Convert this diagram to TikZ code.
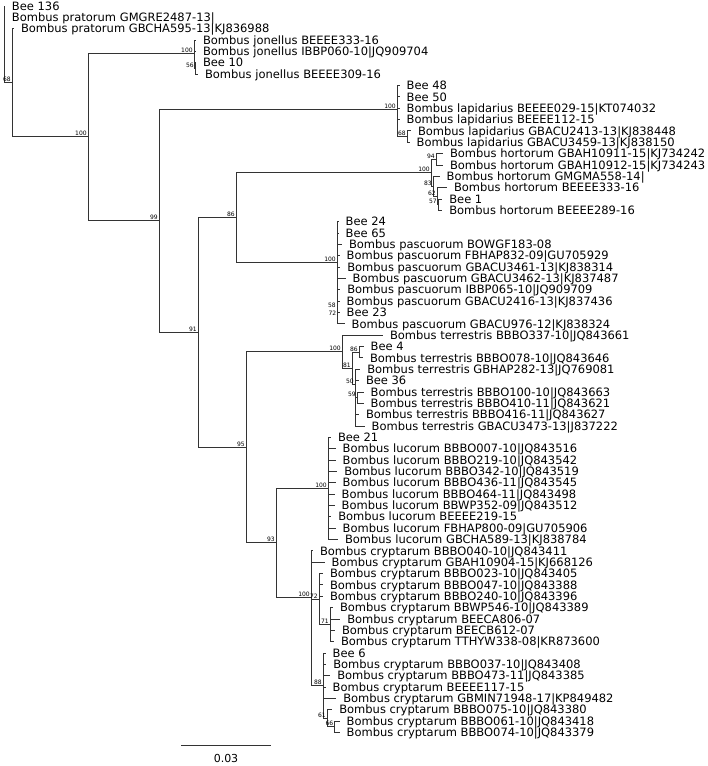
\documentclass[tikz,border=0pt]{standalone}
\usepackage{fontspec}
\setmainfont{DejaVu Sans}
\newcommand{\tipfont}{\fontsize{11.5}{11.5}\selectfont}
\newcommand{\bsfont}{\fontsize{6}{6}\selectfont}
\tikzset{
  tip/.style={anchor=west, inner xsep=7pt, inner ysep=0pt, outer sep=0pt, text height=8.4pt, text depth=0pt, font=\tipfont},
  bs/.style={anchor=south east, inner sep=0.6pt, font=\bsfont, xshift=-0.5pt},
  br/.style={draw=black!80, line width=0.8pt},
}
\begin{document}
\begin{tikzpicture}[x=1pt,y=1pt]
\useasboundingbox (0,0) rectangle (708,-766);
% internal nodes
\coordinate (nR) at (4,-44);
\coordinate (n68) at (12,-82.75);
\coordinate (nB) at (88,-136.8);
\coordinate (nJ) at (194,-53);
\coordinate (n56) at (195,-68.4);
\coordinate (n99) at (159,-220.6);
\coordinate (nLap) at (397,-109);
\coordinate (nL68) at (407,-136.5);
\coordinate (n91) at (198,-332.2);
\coordinate (n86) at (236,-217.4);
\coordinate (nH) at (431,-172.7);
\coordinate (n94) at (436,-159.2);
\coordinate (nH83) at (433,-186.2);
\coordinate (n62) at (437,-196.1);
\coordinate (n57) at (438,-204.6);
\coordinate (nP) at (337,-262);
\coordinate (n58) at (337,-308);
\coordinate (n72p) at (337.5,-316);
\coordinate (n95) at (246,-447);
\coordinate (nT) at (342,-351.6);
\coordinate (n81) at (352,-368.1);
\coordinate (n86b) at (359,-352.2);
\coordinate (n50) at (355,-384);
\coordinate (n59) at (357,-397.6);
\coordinate (n93) at (276,-542.5);
\coordinate (nLu) at (328,-488);
\coordinate (nC) at (311,-597);
\coordinate (n72c) at (319,-599);
\coordinate (n71) at (330,-624.6);
\coordinate (n88) at (323,-685.6);
\coordinate (n61) at (327,-718.2);
\coordinate (n66) at (334.5,-726.7);
% tips
\node[tip] (t1) at (5,-6.0) {Bee 136};
\node[tip] (t2) at (5,-17.35) {Bombus pratorum GMGRE2487-13|};
\node[tip] (t3) at (14,-28.7) {Bombus pratorum GBCHA595-13|KJ836988};
\node[tip] (t4) at (196,-40.05) {Bombus jonellus BEEEE333-16};
\node[tip] (t5) at (196,-51.4) {Bombus jonellus IBBP060-10|JQ909704};
\node[tip] (t6) at (196,-62.75) {Bee 10};
\node[tip] (t7) at (198,-74.1) {Bombus jonellus BEEEE309-16};
\node[tip] (t8) at (399.7,-85.45) {Bee 48};
\node[tip] (t9) at (399.7,-96.8) {Bee 50};
\node[tip] (t10) at (399.7,-108.15) {Bombus lapidarius BEEEE029-15|KT074032};
\node[tip] (t11) at (399.7,-119.5) {Bombus lapidarius BEEEE112-15};
\node[tip] (t12) at (411,-130.85) {Bombus lapidarius GBACU2413-13|KJ838448};
\node[tip] (t13) at (409.7,-142.2) {Bombus lapidarius GBACU3459-13|KJ838150};
\node[tip] (t14) at (443,-153.55) {Bombus hortorum GBAH10911-15|KJ734242};
\node[tip] (t15) at (443,-164.9) {Bombus hortorum GBAH10912-15|KJ734243};
\node[tip] (t16) at (439.7,-176.25) {Bombus hortorum GMGMA558-14|};
\node[tip] (t17) at (447,-187.6) {Bombus hortorum BEEEE333-16};
\node[tip] (t18) at (442.3,-198.95) {Bee 1};
\node[tip] (t19) at (442.3,-210.3) {Bombus hortorum BEEEE289-16};
\node[tip] (t20) at (338.7,-221.65) {Bee 24};
\node[tip] (t21) at (338.7,-233.0) {Bee 65};
\node[tip] (t22) at (342,-244.35) {Bombus pascuorum BOWGF183-08};
\node[tip] (t23) at (339.7,-255.7) {Bombus pascuorum FBHAP832-09|GU705929};
\node[tip] (t24) at (340.3,-267.05) {Bombus pascuorum GBACU3461-13|KJ838314};
\node[tip] (t25) at (345.7,-278.4) {Bombus pascuorum GBACU3462-13|KJ837487};
\node[tip] (t26) at (340.3,-289.75) {Bombus pascuorum IBBP065-10|JQ909709};
\node[tip] (t27) at (339.7,-301.1) {Bombus pascuorum GBACU2416-13|KJ837436};
\node[tip] (t28) at (339.7,-312.45) {Bee 23};
\node[tip] (t29) at (344.7,-323.8) {Bombus pascuorum GBACU976-12|KJ838324};
\node[tip] (t30) at (383,-335.15) {Bombus terrestris BBBO337-10|JQ843661};
\node[tip] (t31) at (363.7,-346.5) {Bee 4};
\node[tip] (t32) at (363,-357.85) {Bombus terrestris BBBO078-10|JQ843646};
\node[tip] (t33) at (360.3,-369.2) {Bombus terrestris GBHAP282-13|JQ769081};
\node[tip] (t34) at (359,-380.55) {Bee 36};
\node[tip] (t35) at (363.7,-391.9) {Bombus terrestris BBBO100-10|JQ843663};
\node[tip] (t36) at (363.7,-403.25) {Bombus terrestris BBBO410-11|JQ843621};
\node[tip] (t37) at (359,-414.6) {Bombus terrestris BBBO416-11|JQ843627};
\node[tip] (t38) at (364.7,-425.95) {Bombus terrestris GBACU3473-13|J837222};
\node[tip] (t39) at (331,-437.3) {Bee 21};
\node[tip] (t40) at (335.7,-448.65) {Bombus lucorum BBBO007-10|JQ843516};
\node[tip] (t41) at (335.7,-460.0) {Bombus lucorum BBBO219-10|JQ843542};
\node[tip] (t42) at (337.3,-471.35) {Bombus lucorum BBBO342-10|JQ843519};
\node[tip] (t43) at (335.7,-482.7) {Bombus lucorum BBBO436-11|JQ843545};
\node[tip] (t44) at (334.7,-494.05) {Bombus lucorum BBBO464-11|JQ843498};
\node[tip] (t45) at (334.7,-505.4) {Bombus lucorum BBWP352-09|JQ843512};
\node[tip] (t46) at (331.3,-516.75) {Bombus lucorum BEEEE219-15};
\node[tip] (t47) at (335.7,-528.1) {Bombus lucorum FBHAP800-09|GU705906};
\node[tip] (t48) at (338,-539.45) {Bombus lucorum GBCHA589-13|KJ838784};
\node[tip] (t49) at (313,-550.8) {Bombus cryptarum BBBO040-10|JQ843411};
\node[tip] (t50) at (324.7,-562.15) {Bombus cryptarum GBAH10904-15|KJ668126};
\node[tip] (t51) at (323,-573.5) {Bombus cryptarum BBBO023-10|JQ843405};
\node[tip] (t52) at (323,-584.85) {Bombus cryptarum BBBO047-10|JQ843388};
\node[tip] (t53) at (323,-596.2) {Bombus cryptarum BBBO240-10|JQ843396};
\node[tip] (t54) at (333,-607.55) {Bombus cryptarum BBWP546-10|JQ843389};
\node[tip] (t55) at (340.3,-618.9) {Bombus cryptarum BEECA806-07};
\node[tip] (t56) at (335,-630.25) {Bombus cryptarum BEECB612-07};
\node[tip] (t57) at (334,-641.6) {Bombus cryptarum TTHYW338-08|KR873600};
\node[tip] (t58) at (325.7,-652.95) {Bee 6};
\node[tip] (t59) at (326.3,-664.3) {Bombus cryptarum BBBO037-10|JQ843408};
\node[tip] (t60) at (330.3,-675.65) {Bombus cryptarum BBBO473-11|JQ843385};
\node[tip] (t61) at (325.7,-687.0) {Bombus cryptarum BEEEE117-15};
\node[tip] (t62) at (336.3,-698.35) {Bombus cryptarum GBMIN71948-17|KP849482};
\node[tip] (t63) at (332.3,-709.7) {Bombus cryptarum BBBO075-10|JQ843380};
\node[tip] (t64) at (339.7,-721.05) {Bombus cryptarum BBBO061-10|JQ843418};
\node[tip] (t65) at (339.7,-732.4) {Bombus cryptarum BBBO074-10|JQ843379};
% branches
\draw[br] (nR) |- (t1.west);
\draw[br] (nR) |- (t2.west);
\draw[br] (nR) |- (n68);
\draw[br] (n68) |- (t3.west);
\draw[br] (n68) |- (nB);
\draw[br] (nB) |- (nJ);
\draw[br] (nB) |- (n99);
\foreach \t in {t4,t5} \draw[br] (nJ) |- (\t.west);
\draw[br] (nJ) |- (n56);
\foreach \t in {t6,t7} \draw[br] (n56) |- (\t.west);
\draw[br] (n99) |- (nLap);
\draw[br] (n99) |- (n91);
\foreach \t in {t8,t9,t10,t11} \draw[br] (nLap) |- (\t.west);
\draw[br] (nLap) |- (nL68);
\foreach \t in {t12,t13} \draw[br] (nL68) |- (\t.west);
\draw[br] (n91) |- (n86);
\draw[br] (n91) |- (n95);
\draw[br] (n86) |- (nH);
\draw[br] (n86) |- (nP);
\draw[br] (nH) |- (n94);
\draw[br] (nH) |- (nH83);
\foreach \t in {t14,t15} \draw[br] (n94) |- (\t.west);
\draw[br] (nH83) |- (t16.west);
\draw[br] (nH83) |- (n62);
\draw[br] (n62) |- (t17.west);
\draw[br] (n62) |- (n57);
\foreach \t in {t18,t19} \draw[br] (n57) |- (\t.west);
\foreach \t in {t20,t21,t22,t23,t24,t25,t26,t27,t28,t29} \draw[br] (nP) |- (\t.west);
\draw[br] (n95) |- (nT);
\draw[br] (n95) |- (n93);
\draw[br] (nT) |- (t30.west);
\draw[br] (nT) |- (n81);
\draw[br] (n81) |- (n86b);
\draw[br] (n81) |- (n50);
\foreach \t in {t31,t32} \draw[br] (n86b) |- (\t.west);
\foreach \t in {t33,t34,t37,t38} \draw[br] (n50) |- (\t.west);
\draw[br] (n50) |- (n59);
\foreach \t in {t35,t36} \draw[br] (n59) |- (\t.west);
\draw[br] (n93) |- (nLu);
\draw[br] (n93) |- (nC);
\foreach \t in {t39,t40,t41,t42,t43,t44,t45,t46,t47,t48} \draw[br] (nLu) |- (\t.west);
\foreach \t in {t49,t50} \draw[br] (nC) |- (\t.west);
\draw[br] (nC) |- (n72c);
\draw[br] (nC) |- (n88);
\foreach \t in {t51,t52,t53} \draw[br] (n72c) |- (\t.west);
\draw[br] (n72c) |- (n71);
\foreach \t in {t54,t55,t56,t57} \draw[br] (n71) |- (\t.west);
\foreach \t in {t58,t59,t60,t61,t62} \draw[br] (n88) |- (\t.west);
\draw[br] (n88) |- (n61);
\draw[br] (n61) |- (t63.west);
\draw[br] (n61) |- (n66);
\foreach \t in {t64,t65} \draw[br] (n66) |- (\t.west);
% support values
\node[bs] (b68) at (n68) {68};
\node[bs] (bB) at (nB) {100};
\node[bs] (bJ) at (nJ) {100};
\node[bs] (b56) at (n56) {56};
\node[bs] (b99) at (n99) {99};
\node[bs] (bLap) at (nLap) {100};
\node[bs] (bL68) at (nL68) {68};
\node[bs] (b91) at (n91) {91};
\node[bs] (b86) at (n86) {86};
\node[bs] (bH) at (nH) {100};
\node[bs] (b94) at (n94) {94};
\node[bs] (bH83) at (nH83) {83};
\node[bs] (b62) at (n62) {62};
\node[bs] (b57) at (n57) {57};
\node[bs] (bP) at (nP) {100};
\node[bs] (b58) at (n58) {58};
\node[bs] (b72p) at (n72p) {72};
\node[bs] (b95) at (n95) {95};
\node[bs] (bT) at (nT) {100};
\node[bs] (b81) at (n81) {81};
\node[bs] (b86b) at (n86b) {86};
\node[bs] (b50) at (n50) {50};
\node[bs] (b59) at (n59) {59};
\node[bs] (b93) at (n93) {93};
\node[bs] (bLu) at (nLu) {100};
\node[bs] (bC) at (nC) {100};
\node[bs] (b72c) at (n72c) {72};
\node[bs] (b71) at (n71) {71};
\node[bs] (b88) at (n88) {88};
\node[bs] (b61) at (n61) {61};
\node[bs] (b66) at (n66) {66};
% scale bar
\coordinate (sa) at (181,-745);
\coordinate (sb) at (271,-745);
\draw[br] (sa) -- (sb);
\node[font=\fontsize{11}{11}\selectfont, inner sep=0pt] (sl) at (226,-758) {0.03};
\end{tikzpicture}
\end{document}
